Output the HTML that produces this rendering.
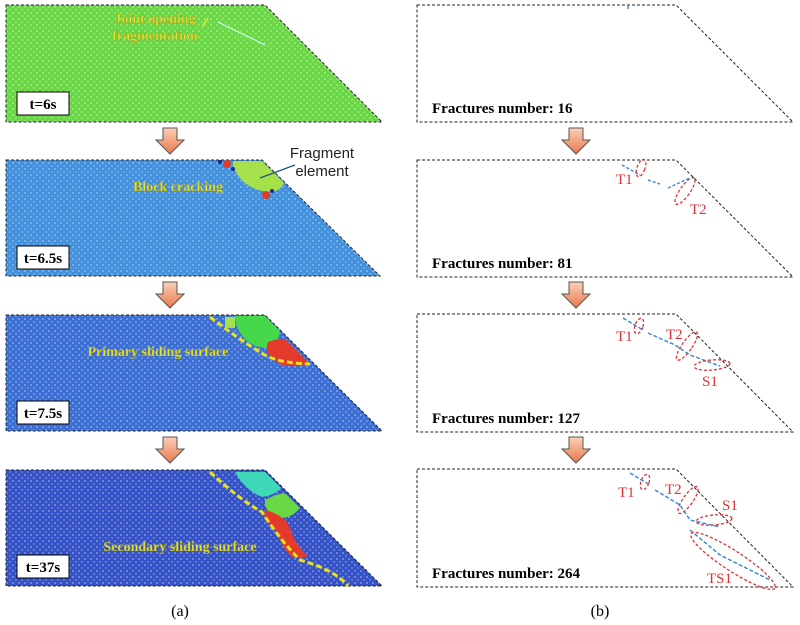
<!DOCTYPE html>
<html><head><style>body{margin:0;background:#fff}svg{display:block}</style></head><body>
<svg width="800" height="625" xmlns="http://www.w3.org/2000/svg" font-family="Liberation Serif, serif">
<defs>
<pattern id="dots" width="6" height="6" patternUnits="userSpaceOnUse"><circle cx="1" cy="1" r="0.8" fill="#fff" opacity="0.6"/><circle cx="4" cy="4" r="0.7" fill="#fff" opacity="0.5"/></pattern>
<linearGradient id="ag" x1="0" y1="0" x2="0" y2="1"><stop offset="0" stop-color="#fbd0b8"/><stop offset="1" stop-color="#e8784a"/></linearGradient>
<g id="arrow"><path d="M-7,0 H7 V12 H14 L0,26 L-14,12 H-7 Z" fill="url(#ag)" stroke="#555" stroke-width="1"/></g>
</defs>
<path d="M6,5 H265 L382,122 H6 Z" fill="#6ad845"/>
<path d="M6,5 H265 L382,122 H6 Z" fill="url(#dots)" stroke="#222" stroke-dasharray="3,2" stroke-width="1"/>
<path d="M6,160 H262 L380,276 H6 Z" fill="#4391dd"/>
<path d="M6,160 H262 L380,276 H6 Z" fill="url(#dots)" stroke="#222" stroke-dasharray="3,2"/>
<path d="M6,315 H265 L382,431 H6 Z" fill="#3b6fd4"/>
<path d="M6,315 H265 L382,431 H6 Z" fill="url(#dots)" stroke="#222" stroke-dasharray="3,2"/>
<path d="M6,470 H265 L382,586 H6 Z" fill="#3553c6"/>
<path d="M6,470 H265 L382,586 H6 Z" fill="url(#dots)" stroke="#222" stroke-dasharray="3,2"/>
<!-- panel2 features -->
<path d="M233,161 H262 L284,183 Q280,192 268,192 Q250,190 240,178 Q232,168 233,161Z" fill="#a6e04a"/>
<circle cx="227" cy="164" r="4" fill="#e23a2a"/><circle cx="266" cy="195" r="4" fill="#e23a2a"/>
<circle cx="220" cy="162" r="2" fill="#1a2a9a"/><circle cx="233" cy="169" r="2" fill="#1a2a9a"/><circle cx="272" cy="191" r="2" fill="#1a2a9a"/>
<line x1="295" y1="165" x2="260" y2="178" stroke="#1a5a7a" stroke-width="1.3"/>
<text x="322" y="158" font-size="15" text-anchor="middle" fill="#222" font-family="Liberation Sans, sans-serif">Fragment</text>
<text x="322" y="176" font-size="15" text-anchor="middle" fill="#222" font-family="Liberation Sans, sans-serif">element</text>
<!-- panel3 -->
<path d="M235,316 H265 L280,331 L276,348 Q262,350 248,342 Q235,330 235,316Z" fill="#46d84a"/>
<path d="M268,342 Q280,338 285,339 L310,364 Q295,368 282,365 Q262,355 268,342Z" fill="#e43a2c"/>
<path d="M210,317 Q240,340 260,352 Q275,363 310,364" fill="none" stroke="#e8e020" stroke-width="3" stroke-dasharray="6,3"/>
<path d="M225,317 H235 V328 H225Z" fill="#a6e04a"/>
<!-- panel4 -->
<path d="M235,472 H265 L281,488 Q275,495 262,497 Q245,490 235,472Z" fill="#3fd8b8"/>
<path d="M265,500 Q280,492 286,494 L300,508 Q290,520 275,518 Q264,510 265,500Z" fill="#6ad845"/>
<path d="M265,510 Q285,515 290,528 Q295,545 308,556 Q300,560 292,557 Q285,552 275,530 Q262,518 265,510Z" fill="#e43a2c"/>
<path d="M210,472 Q240,500 262,512 Q280,540 300,560 Q335,570 348,586" fill="none" stroke="#e8e020" stroke-width="3" stroke-dasharray="6,3"/>
<g fill="#e8e030" font-weight="bold" font-size="14" text-anchor="middle" stroke="#8a8a20" stroke-width="0.3">
<text x="155" y="23">Joint opening</text><text x="155" y="40">fragmentation</text>
<text x="178" y="191">Block cracking</text>
<text x="158" y="356">Primary sliding surface</text>
<text x="180" y="551">Secondary sliding surface</text>
</g>
<line x1="202" y1="27" x2="208" y2="18" stroke="#e8e030" stroke-width="1.5"/>
<line x1="218" y1="22" x2="265" y2="45" stroke="#dff" stroke-width="1"/>
<g font-weight="bold" font-size="15" fill="#000">
<rect x="17" y="92" width="52" height="23" fill="#fff" stroke="#000"/><text x="43" y="109" text-anchor="middle">t=6s</text>
<rect x="17" y="246" width="52" height="23" fill="#fff" stroke="#000"/><text x="43" y="263" text-anchor="middle">t=6.5s</text>
<rect x="17" y="401" width="52" height="23" fill="#fff" stroke="#000"/><text x="43" y="418" text-anchor="middle">t=7.5s</text>
<rect x="17" y="555" width="52" height="23" fill="#fff" stroke="#000"/><text x="43" y="572" text-anchor="middle">t=37s</text>
</g>
<use href="#arrow" x="170" y="128"/><use href="#arrow" x="170" y="282"/><use href="#arrow" x="170" y="437"/>
<use href="#arrow" x="576" y="128"/><use href="#arrow" x="576" y="282"/><use href="#arrow" x="576" y="437"/>
<g fill="none" stroke="#222" stroke-dasharray="3,2">
<path d="M417,5 H676 L793,122 H417 Z"/>
<path d="M417,160 H676 L793,277 H417 Z"/>
<path d="M417,314 H676 L793,432 H417 Z"/>
<path d="M417,469 H676 L793,587 H417 Z"/>
</g>
<g font-weight="bold" font-size="15" fill="#000">
<text x="432" y="113">Fractures number: 16</text>
<text x="432" y="268">Fractures number: 81</text>
<text x="432" y="423">Fractures number: 127</text>
<text x="432" y="578">Fractures number: 264</text>
</g>
<g stroke="#3a8ee0" stroke-width="1.5" fill="none">
<path d="M628,5 v4"/>
<path d="M622,165 L640,175 M648,180 L660,184 M668,188 L690,178" stroke-dasharray="3,2"/>
<path d="M623,318 L643,330 M648,333 L675,345 L690,355 L720,366" stroke-dasharray="4,2"/>
<path d="M630,473 L650,485 M655,490 L680,505 L690,520 L720,527 M690,530 L720,555 L770,580" stroke-dasharray="4,2"/>
</g>
<g stroke="#d33" stroke-width="1.3" fill="none" stroke-dasharray="3,2">
<ellipse cx="641" cy="168" rx="4" ry="9" transform="rotate(20 641 168)"/>
<ellipse cx="685" cy="191" rx="5" ry="16" transform="rotate(35 685 191)"/>
<ellipse cx="639" cy="326" rx="4" ry="8" transform="rotate(20 639 326)"/>
<ellipse cx="687" cy="346" rx="5" ry="17" transform="rotate(35 687 346)"/>
<ellipse cx="712" cy="365" rx="18" ry="5" transform="rotate(-5 712 365)"/>
<ellipse cx="645" cy="482" rx="4" ry="8" transform="rotate(20 645 482)"/>
<ellipse cx="688" cy="500" rx="5" ry="16" transform="rotate(35 688 500)"/>
<ellipse cx="714" cy="520" rx="18" ry="5" transform="rotate(-5 714 520)"/>
<ellipse cx="733" cy="561" rx="50" ry="10" transform="rotate(33 733 561)"/>
</g>
<g fill="#d33" font-size="15">
<text x="616" y="184">T1</text><text x="690" y="214">T2</text>
<text x="616" y="341">T1</text><text x="666" y="339">T2</text><text x="702" y="386">S1</text>
<text x="618" y="497">T1</text><text x="665" y="494">T2</text><text x="722" y="510">S1</text><text x="707" y="583">TS1</text>
</g>
<text x="180" y="616" font-size="16" text-anchor="middle">(a)</text>
<text x="600" y="616" font-size="16" text-anchor="middle">(b)</text>
</svg>
</body></html>
